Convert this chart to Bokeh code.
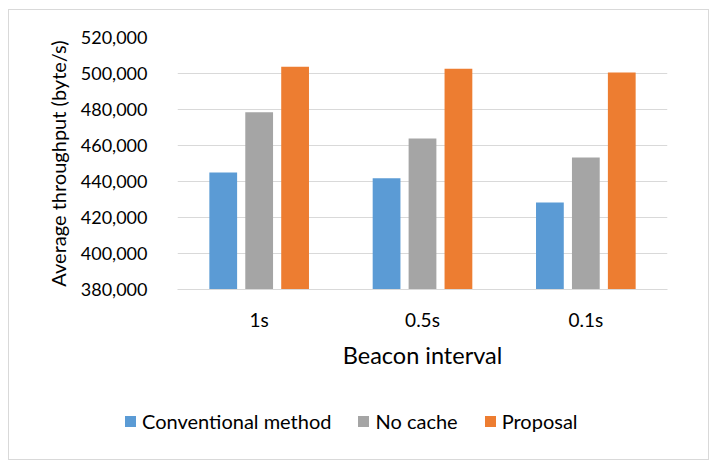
from bokeh.plotting import figure
from bokeh.layouts import column
from bokeh.models import ColumnDataSource, FixedTicker, NumeralTickFormatter, Div
from bokeh.transform import dodge
from bokeh.embed import file_html
from bokeh.resources import INLINE

categories = ["1s", "0.5s", "0.1s"]
conventional = [445000, 441800, 428300]
no_cache = [478500, 463900, 453300]
proposal = [503700, 502600, 500500]
series_names = ["Conventional method", "No cache", "Proposal"]
y_ticks = [380000, 400000, 420000, 440000, 460000, 480000, 500000, 520000]

FONT = "Lato"
colors = ["#5b9bd5", "#a5a5a5", "#ed7d31"]

src = ColumnDataSource(dict(cat=categories, conv=conventional, nc=no_cache, prop=proposal))

p = figure(x_range=categories, y_range=(380000, 520000), width=699, height=388,
           output_backend="svg", toolbar_location=None,
           min_border_left=168, min_border_right=41, min_border_top=27, min_border_bottom=109)
p.margin = 0
p.outline_line_color = None
p.background_fill_color = "white"
p.border_fill_color = "white"

offsets = [-0.22, 0.0, 0.22]
fields = ["conv", "nc", "prop"]
for f, off, c in zip(fields, offsets, colors):
    p.vbar(x=dodge("cat", off, range=p.x_range), top=f, bottom=380000, width=0.17,
           source=src, fill_color=c, line_color=None)

p.xgrid.grid_line_color = None
p.ygrid.grid_line_color = "#d9d9d9"
p.ygrid.grid_line_width = 1

p.yaxis.ticker = FixedTicker(ticks=y_ticks)
p.yaxis.formatter = NumeralTickFormatter(format="0,0")
p.yaxis.axis_line_color = None
p.yaxis.major_tick_line_color = None
p.yaxis.minor_tick_line_color = None
p.yaxis.major_label_standoff = 24
p.yaxis.axis_label = "Average throughput (byte/s)"
p.yaxis.axis_label_standoff = 8

p.xaxis.axis_line_color = "#d9d9d9"
p.xaxis.major_tick_line_color = None
p.xaxis.minor_tick_line_color = None
p.xaxis.major_label_standoff = 12
p.xaxis.axis_label = "Beacon interval"
p.xaxis.axis_label_standoff = 7

for ax in (p.xaxis[0], p.yaxis[0]):
    ax.major_label_text_font = FONT
    ax.major_label_text_color = "#000000"
    ax.axis_label_text_font = FONT
    ax.axis_label_text_font_style = "normal"
    ax.axis_label_text_color = "#000000"
p.yaxis.major_label_text_font_size = "18px"
p.xaxis.major_label_text_font_size = "19px"
p.yaxis.axis_label_text_font_size = "20px"
p.xaxis.axis_label_text_font_size = "23.5px"

# legend strip below the chart
items_html = "".join(
    f'<span style="display:inline-flex;align-items:center;margin-right:27px;">'
    f'<span style="display:inline-block;width:11px;height:11px;background:{c};margin-right:6px;"></span>'
    f'<span>{n}</span></span>'
    for n, c in zip(series_names, colors)
)
legend_div = Div(
    text=f'<div style="display:flex;align-items:center;height:47px;padding-left:116px;'
         f'font-family:{FONT};font-size:20px;color:#000;white-space:nowrap;">{items_html}</div>',
    width=699, height=61,
)
legend_div.margin = 0
legend_div.styles = {"background": "white"}

layout = column(p, legend_div, spacing=0)
layout.margin = (10, 10, 9, 9)
layout.styles = {"outline": "1px solid #d9d9d9", "outline-offset": "0px", "background": "white"}

open("out.html", "w").write(file_html(layout, INLINE))
